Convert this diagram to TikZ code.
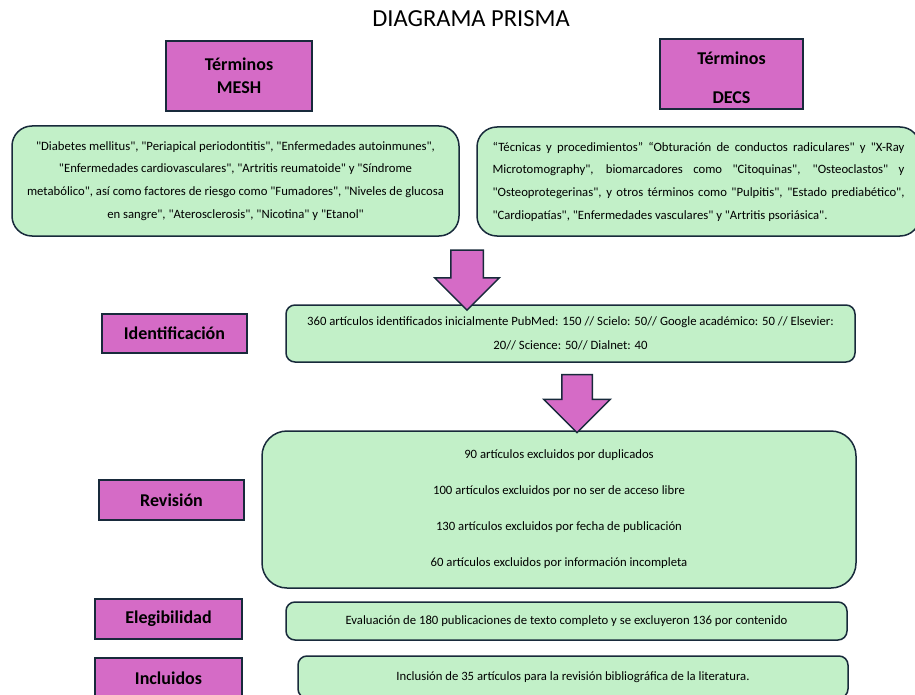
\documentclass[tikz,border=0pt]{standalone}
\usepackage{fontspec}
\setmainfont{Carlito}[Ligatures=TeXOff]
\usetikzlibrary{shapes.arrows}
\definecolor{orquidea}{HTML}{D56BC6}
\definecolor{verdeclaro}{HTML}{C2F0C8}
\definecolor{borde}{HTML}{182A3B}
\begin{document}
\begin{tikzpicture}
	[x=1pt,y=-1pt,
	etiqueta/.style={draw=borde,line width=1.8pt,fill=orquidea,
		font=\fontsize{18}{21}\selectfont\bfseries,inner sep=0pt,align=center},
	cuadro/.style={draw=borde,line width=1.5pt,fill=verdeclaro,
		rounded corners=9pt,font=\fontsize{12.7}{24}\selectfont,inner sep=0pt,align=center},
	flecha/.style={draw=borde,line width=1.5pt,fill=orquidea,single arrow,
		shape border rotate=270,single arrow tip angle=90,inner ysep=0pt}]
	\useasboundingbox (0,0) rectangle (915,695);
	\node[font=\fontsize{24.5}{28}\selectfont] (titulo) at (471,19) {DIAGRAMA PRISMA};
	% terminos
	\node[etiqueta,minimum width=146pt,minimum height=70pt,
		font=\fontsize{18}{23}\selectfont\bfseries] (mesh) at (239,76) {Términos\\MESH};
	\node[etiqueta,minimum width=143pt,minimum height=70pt,
		label={[font=\fontsize{18}{39}\selectfont\bfseries,align=center,yshift=-3.5pt]center:Términos\\DECS}] (decs) at (731.5,74) {};
	\node[cuadro,rounded corners=20pt,minimum width=447pt,minimum height=110pt,
		font=\fontsize{12.7}{22.7}\selectfont] (listamesh) at (235.5,181)
		{"Diabetes mellitus", "Periapical periodontitis", "Enfermedades autoinmunes",\\
		"Enfermedades cardiovasculares", "Artritis reumatoide" y "Síndrome\\
		metabólico", así como factores de riesgo como "Fumadores", "Niveles de glucosa\\
		en sangre", "Aterosclerosis", "Nicotina" y "Etanol"};
	\node[cuadro,rounded corners=20pt,minimum width=443pt,minimum height=109pt,
		text width=412pt,align=justify,font=\fontsize{12.7}{22.7}\selectfont] (listadecs) at (698.5,181.5)
		{“Técnicas y procedimientos” “Obturación de conductos radiculares" y "X-Ray\linebreak
		Microtomography", biomarcadores como "Citoquinas", "Osteoclastos" y\linebreak
		"Osteoprotegerinas", y otros términos como "Pulpitis", "Estado prediabético",\linebreak
		"Cardiopatías", "Enfermedades vasculares" y "Artritis psoriásica".};
	% fases
	\node[etiqueta,minimum width=145pt,minimum height=39pt] (ident) at (174.5,333.5) {Identificación};
	\node[etiqueta,minimum width=145pt,minimum height=40pt] (revis) at (171.5,500) {Revisión};
	\node[etiqueta,minimum width=147pt,minimum height=40pt] (eleg) at (168.5,619) {Elegibilidad};
	\node[etiqueta,minimum width=147pt,minimum height=40pt] (incl) at (168.5,678) {Incluidos};
	% cuadros
	\node[cuadro,minimum width=569pt,minimum height=57pt] (identtxt) at (570.5,333.5)
		{360 artículos identificados inicialmente PubMed: 150 // Scielo: 50// Google académico: 50 // Elsevier:\\
		20// Science: 50// Dialnet: 40};
	\node[cuadro,rounded corners=25pt,minimum width=594pt,minimum height=157pt,
		font=\fontsize{12.7}{36}\selectfont] (revistxt) at (559,509.5)
		{90 artículos excluidos por duplicados\\
		100 artículos excluidos por no ser de acceso libre\\
		130 artículos excluidos por fecha de publicación\\
		60 artículos excluidos por información incompleta};
	\node[cuadro,minimum width=561pt,minimum height=38pt] (elegtxt) at (566.5,621)
		{Evaluación de 180 publicaciones de texto completo y se excluyeron 136 por contenido};
	\node[cuadro,minimum width=550pt,minimum height=42pt] (incltxt) at (573,677)
		{Inclusión de 35 artículos para la revisión bibliográfica de la literatura.};
	% flechas
	\node[flecha,inner xsep=15.5pt,single arrow head extend=16pt,minimum height=60pt] (flechaA) at (467,272) {};
	\node[flecha,inner xsep=14.5pt,single arrow head extend=18pt,minimum height=58pt] (flechaB) at (577,396) {};
\end{tikzpicture}
\end{document}
